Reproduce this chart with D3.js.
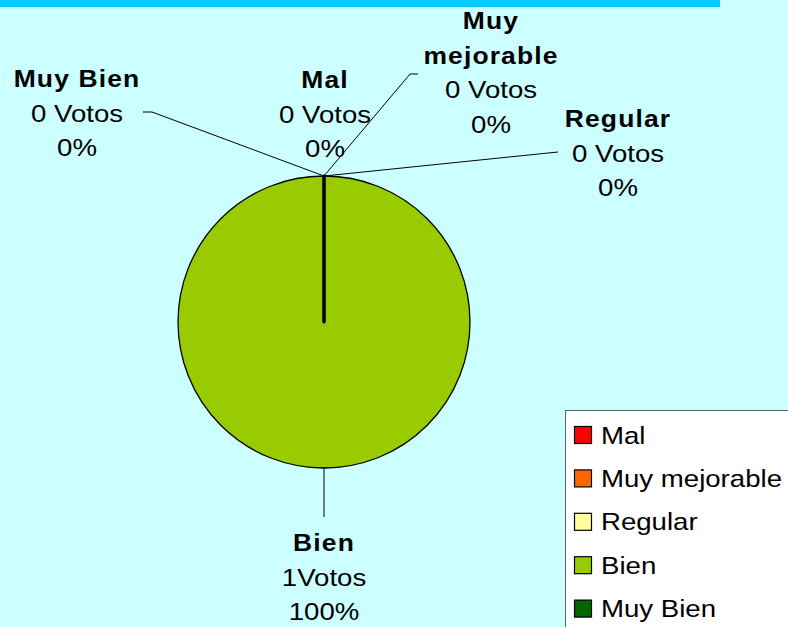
<!DOCTYPE html>
<html>
<head>
<meta charset="utf-8" />
<title>Votos</title>
<script src="https://cdn.jsdelivr.net/npm/d3@7"></script>
<style>
	body { margin: 0; background: #ccffff; overflow: hidden; }
	svg { display: block; font-family: "Liberation Sans", Arial, sans-serif; }
</style>
</head>
<body>
<div id="chart"></div>
<script>
	// data
	var categories = ["Mal", "Muy mejorable", "Regular", "Bien", "Muy Bien"];
	var votes = [0, 0, 0, 1, 0];
	var colors = ["#ff0000", "#ff6600", "#ffff99", "#99cc00", "#006600"];

	var width = 788, height = 627;
	var cx = 324, cy = 322, radius = 146;
	var sx = 1.15; // labels look horizontally stretched in the original

	// where each label block sits (centre x, first baseline) and its leader line
	var labelLayout = {
		"Mal":           { x: 325, y: 88,  lines: ["Mal"], leader: null },
		"Muy mejorable": { x: 491, y: 29,  lines: ["Muy", "mejorable"], leader: [[418, 74], [410, 74]] },
		"Regular":       { x: 618, y: 127, lines: ["Regular"], leader: [[558, 152]] },
		"Bien":          { x: 324, y: 551, lines: ["Bien"], leader: [[324, 517]] },
		"Muy Bien":      { x: 77,  y: 87,  lines: ["Muy Bien"], leader: [[143, 112], [152, 112]] }
	};

	var total = d3.sum(votes);
	var rows = categories.map(function (c, i) {
		return { name: c, value: votes[i], color: colors[i] };
	});

	var svg = d3.select("#chart").append("svg")
		.attr("width", width)
		.attr("height", height);

	svg.append("rect").attr("width", width).attr("height", height).attr("fill", "#ccffff");
	svg.append("rect").attr("x", 0).attr("y", 0).attr("width", 720).attr("height", 7).attr("fill", "#00ccff");

	var pie = d3.pie().sort(null).value(function (d) { return d.value; });
	var arc = d3.arc().innerRadius(0).outerRadius(radius);
	var arcs = pie(rows);

	// leader lines first, under the pie
	var leaders = svg.append("g");
	arcs.forEach(function (a) {
		var lay = labelLayout[a.data.name];
		if (!lay.leader) return;
		var mid = (a.startAngle + a.endAngle) / 2;
		var px = cx + Math.sin(mid) * radius, py = cy - Math.cos(mid) * radius;
		if (a.endAngle - a.startAngle < 1e-6) { px = cx + Math.sin(a.startAngle) * radius; py = cy - Math.cos(a.startAngle) * radius; }
		var pts = [[px, py]].concat(lay.leader.slice().reverse());
		leaders.append("path")
			.attr("d", d3.line()(pts))
			.attr("fill", "none")
			.attr("stroke", "#000")
			.attr("stroke-width", 1);
	});

	var g = svg.append("g").attr("transform", "translate(" + cx + "," + cy + ")");
	// big slices first, the zero ones on top so their edges show
	var ordered = arcs.slice().sort(function (a, b) { return b.value - a.value; });
	g.selectAll("path.slice").data(ordered).enter().append("path")
		.attr("class", "slice")
		.attr("d", arc)
		.attr("fill", function (d) { return d.data.color; })
		.attr("stroke", "#000")
		.attr("stroke-width", function (d) { return d.value === 0 ? 2.6 : 1.3; })
		.attr("stroke-linejoin", "round");

	// data labels
	arcs.forEach(function (a) {
		var lay = labelLayout[a.data.name];
		var pct = total ? Math.round(a.value / total * 100) : 0;
		var lines = lay.lines.map(function (t) { return { text: t, bold: true }; });
		lines.push({ text: a.value + (a.value === 0 ? " " : "") + "Votos", bold: false });
		lines.push({ text: pct + "%", bold: false });
		lines.forEach(function (ln, i) {
			svg.append("text")
				.attr("transform", "translate(" + lay.x + "," + (lay.y + i * 34.5) + ") scale(" + sx + ",1)")
				.attr("text-anchor", "middle")
				.attr("font-size", ln.bold ? "23px" : "24px")
				.attr("font-weight", ln.bold ? "bold" : "normal")
				.attr("letter-spacing", ln.bold ? "1px" : "0px")
				.attr("fill", "#000")
				.text(ln.text);
		});
	});

	// legend
	var legend = svg.append("g").attr("transform", "translate(565,410)");
	legend.append("rect")
		.attr("x", 0.5).attr("y", 0.5)
		.attr("width", 240).attr("height", 240)
		.attr("fill", "#ffffff")
		.attr("stroke", "#606060");
	var item = legend.selectAll("g.item").data(rows).enter().append("g")
		.attr("class", "item")
		.attr("transform", function (d, i) { return "translate(0," + (25 + i * 43.4) + ")"; });
	item.append("rect")
		.attr("x", 9.5).attr("y", -8.5)
		.attr("width", 17).attr("height", 17)
		.attr("fill", function (d) { return d.color; })
		.attr("stroke", "#000")
		.attr("stroke-width", 1.2);
	item.append("text")
		.attr("transform", "translate(36,8.5) scale(" + sx + ",1)")
		.attr("font-size", "24px")
		.attr("fill", "#000")
		.text(function (d) { return d.name; });
</script>
</body>
</html>
